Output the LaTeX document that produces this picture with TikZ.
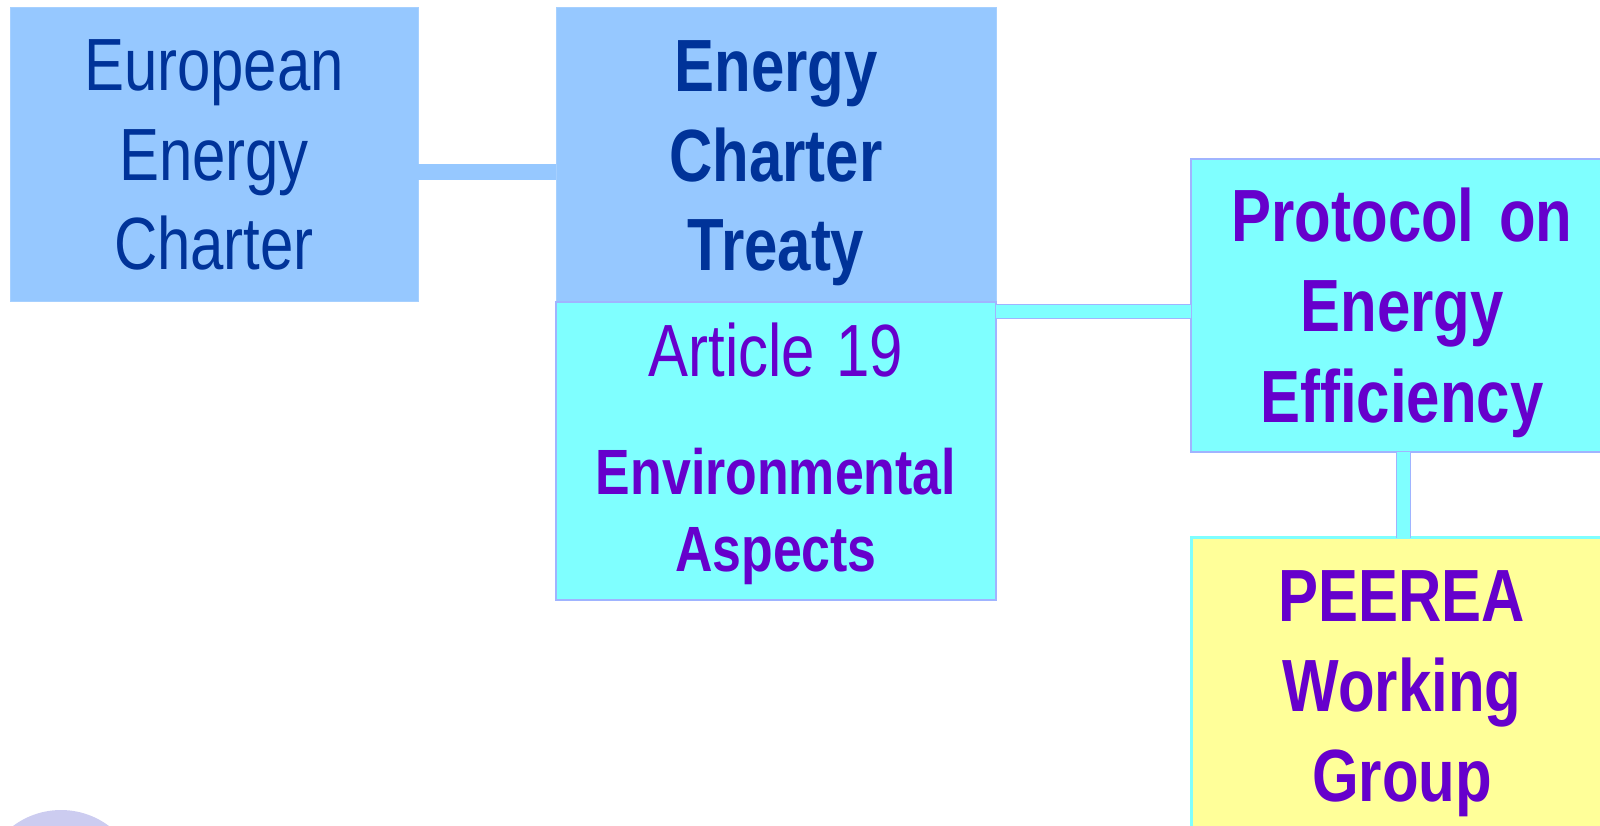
\documentclass[tikz,border=0pt]{standalone}
\usepackage{fontspec}
\setmainfont{Liberation Sans}[FakeStretch=0.81,WordSpace=0.75]
\usetikzlibrary{calc}
\usetikzlibrary{positioning}
\definecolor{boxblue}{HTML}{96C8FF}
\definecolor{textblue}{HTML}{003399}
\definecolor{boxcyan}{HTML}{7FFFFF}
\definecolor{textpurple}{HTML}{6600CC}
\definecolor{boxyellow}{HTML}{FFFF99}
\definecolor{edgelav}{HTML}{A0B4FF}
\definecolor{disclav}{HTML}{CCCCF0}

\begin{document}
\begin{tikzpicture}[x=1pt,y=-1pt,inner sep=0pt,outer sep=0pt,line cap=butt
  ,chartbox/.style={rectangle,anchor=north west,align=center,text height=0pt}
  ,bluebox/.style={chartbox,fill=boxblue,draw=boxblue!85!white,line width=1pt,text=textblue}
  ,cyanbox/.style={chartbox,fill=boxcyan,draw=edgelav,line width=2pt,text=textpurple}
  ,yellowbox/.style={chartbox,fill=boxyellow,draw=boxcyan,line width=3pt,text=textpurple}
  ,blueline/.style={draw=boxblue,line width=16pt}
  ,cyanline/.style={draw=edgelav,line width=1pt,double=boxcyan,double distance=13pt}]
\useasboundingbox (0,0) rectangle (1600,826);
\clip (0,0) rectangle (1600,826);
\fill[disclav] (61,890) circle (80);

\node[bluebox,font=\fontsize{74}{89.5}\selectfont,text width=400pt,minimum width=408pt
  ,minimum height=293pt,text depth=127pt] (eec) at (10,8) {European\\Energy\\Charter};
\node[bluebox,font=\fontsize{74}{89.5}\selectfont\bfseries,text width=430pt,minimum width=440pt
  ,minimum height=293.5pt,text depth=126pt] (ect) at (556,8) {Energy\\Charter\\Treaty};
\node[cyanbox,font=\fontsize{64}{77}\selectfont,text width=430pt,minimum width=440pt
  ,minimum height=298pt,text depth=148pt] (art) at (556,301.5)
  {{\fontsize{74}{89.5}\selectfont Article 19}\\[41pt]\bfseries Environmental\\Aspects};
\node[cyanbox,font=\fontsize{74}{90}\selectfont\bfseries,text width=410pt,minimum width=422pt
  ,minimum height=292pt,text depth=127pt] (pee) at (1191,159.5) {Protocol on\\Energy\\Efficiency};
\node[yellowbox,font=\fontsize{74}{90}\selectfont\bfseries,text width=410pt,minimum width=422pt
  ,minimum height=320pt,text depth=153pt] (wg) at (1191,537.5) {PEEREA\\Working\\Group};

\draw[blueline] ([yshift=-18pt]eec.east) -- ([yshift=-18pt]eec.east -| ect.west);
\draw[cyanline] ([yshift=-6pt]pee.west -| art.east) -- ([yshift=-6pt]pee.west);
\draw[cyanline] ([xshift=1.5pt]pee.south) -- ([xshift=1.5pt]pee.south |- wg.north);

\end{tikzpicture}
\end{document}
